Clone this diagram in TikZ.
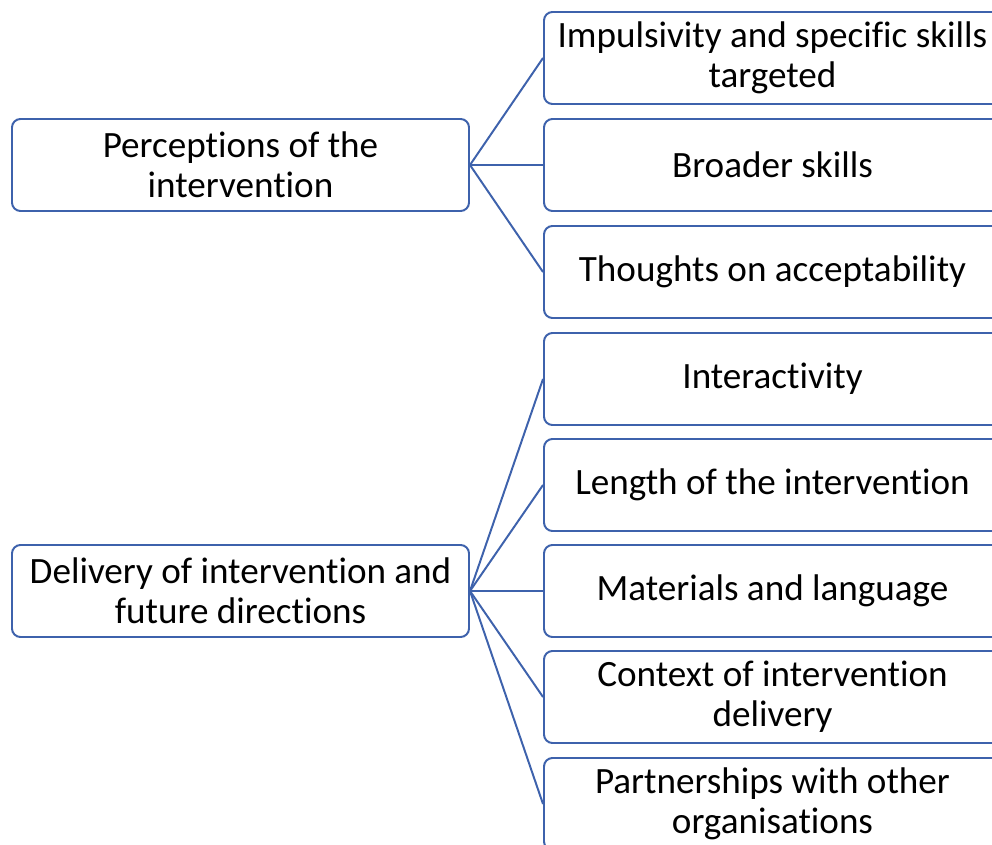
\documentclass[tikz,border=0pt]{standalone}
\usepackage{fontspec}
\setmainfont{Carlito}[Ligatures=NoCommon]
\definecolor{boxblue}{RGB}{62,98,172}
\tikzset{
  theme/.style={draw=boxblue, line width=1.4pt, rounded corners=6pt, fill=white,
    minimum width=457*0.025cm, minimum height=92*0.025cm, align=center,
    inner sep=0pt, font=\fontsize{26.4}{28.5}\selectfont},
  link/.style={draw=boxblue, line width=1.4pt}
}
\begin{document}
\begin{tikzpicture}[x=0.025cm,y=-0.025cm]
\clip (0,0) rectangle (992,845);
\useasboundingbox (0,0) rectangle (992,845);
% main themes
\node[theme] (perc) at (240.5,165) {Perceptions of the\\intervention};
\node[theme] (deliv) at (240.5,591) {Delivery of intervention and\\future directions};
% sub themes
\node[theme] (impuls) at (772.5,58) {Impulsivity and specific skills\\targeted};
\node[theme] (broad) at (772.5,165) {Broader skills};
\node[theme] (accept) at (772.5,272) {Thoughts on acceptability};
\node[theme] (interact) at (772.5,379) {Interactivity};
\node[theme] (length) at (772.5,485) {Length of the intervention};
\node[theme] (mater) at (772.5,591) {Materials and language};
\node[theme] (context) at (772.5,697) {Context of intervention\\delivery};
\node[theme] (partner) at (772.5,804) {Partnerships with other\\organisations};
% links
\draw[link] (perc.east) -- (impuls.west);
\draw[link] (perc.east) -- (broad.west);
\draw[link] (perc.east) -- (accept.west);
\draw[link] (deliv.east) -- (interact.west);
\draw[link] (deliv.east) -- (length.west);
\draw[link] (deliv.east) -- (mater.west);
\draw[link] (deliv.east) -- (context.west);
\draw[link] (deliv.east) -- (partner.west);
\end{tikzpicture}
\end{document}
